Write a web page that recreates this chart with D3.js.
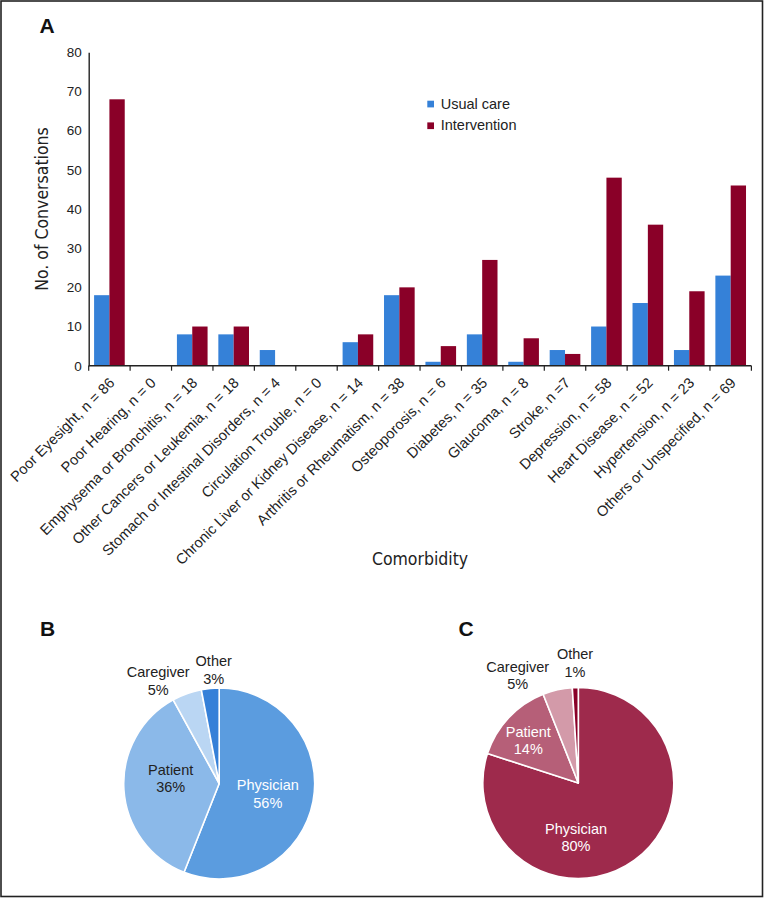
<!DOCTYPE html>
<html>
<head>
<meta charset="utf-8">
<script src="https://cdn.jsdelivr.net/npm/d3@7"></script>
<style>
  html, body { margin: 0; padding: 0; background: #fff; }
  svg { display: block; }
</style>
</head>
<body>
<svg id="chart" width="764" height="898"></svg>
<script>
// ---------- DATA ----------
const categories = [
  "Poor Eyesight, n = 86",
  "Poor Hearing, n = 0",
  "Emphysema or Bronchitis, n = 18",
  "Other Cancers or Leukemia, n = 18",
  "Stomach or Intestinal Disorders, n = 4",
  "Circulation Trouble, n = 0",
  "Chronic Liver or Kidney Disease, n = 14",
  "Arthritis or Rheumatism, n = 38",
  "Osteoporosis, n = 6",
  "Diabetes, n = 35",
  "Glaucoma, n = 8",
  "Stroke, n =7",
  "Depression, n = 58",
  "Heart Disease, n = 52",
  "Hypertension, n = 23",
  "Others or Unspecified, n = 69"
];
const seriesNames = ["Usual care", "Intervention"];
const usualCare    = [18, 0, 8, 8, 4, 0, 6, 18, 1, 8, 1, 4, 10, 16, 4, 23];
const intervention = [68, 0, 10, 10, 0, 0, 8, 20, 5, 27, 7, 3, 48, 36, 19, 46];
const yTicks = [0, 10, 20, 30, 40, 50, 60, 70, 80];

const pieLabels = ["Physician", "Patient", "Caregiver", "Other"];
const pieUsual = [56, 36, 5, 3];
const pieIntervention = [80, 14, 5, 1];

// ---------- STYLE ----------
const barColors = ["#3581d8", "#8a0028"];
const pieColorsB = ["#5b9cdf", "#8bb9e9", "#bad6f3", "#3580d8"];
const pieColorsC = ["#9e2a4c", "#b65f78", "#d39aa9", "#8a0028"];
const sans = "'Liberation Sans', Arial, Helvetica, sans-serif";
const cond = "'DejaVu Sans Condensed', 'DejaVu Sans', sans-serif";

const svg = d3.select("#chart");

// frame
svg.append("rect").attr("x", 1).attr("y", 1).attr("width", 761.5).attr("height", 895.5)
  .attr("fill", "none").attr("stroke", "#222").attr("stroke-width", 1.6);

// ---------- PANEL A ----------
const x0 = 88.7, x1 = 751.4, yBottom = 365.7, yTop = 52.3;
const x = d3.scaleBand().domain(categories).range([x0, x1]).paddingInner(0.26).paddingOuter(0.13);
const xs = d3.scaleBand().domain(seriesNames).range([0, x.bandwidth()]);
const y = d3.scaleLinear().domain([0, 80]).range([yBottom, yTop]);

const rows = categories.map((c, i) => ({ cat: c, vals: [usualCare[i], intervention[i]] }));

const groups = svg.append("g").selectAll("g").data(rows).join("g")
  .attr("transform", d => `translate(${x(d.cat)},0)`);
groups.selectAll("rect").data(d => d.vals.map((v, j) => ({ v, s: seriesNames[j], j })))
  .join("rect")
  .attr("x", d => xs(d.s))
  .attr("y", d => y(d.v))
  .attr("width", xs.bandwidth())
  .attr("height", d => yBottom - y(d.v))
  .attr("fill", d => barColors[d.j]);

// y axis
const yAxis = d3.axisLeft(y).tickValues(yTicks).tickSize(0).tickPadding(7);
const gy = svg.append("g").attr("transform", `translate(${x0},0)`).call(yAxis);
gy.select(".domain").attr("stroke", "#222").attr("stroke-width", 1.4);
gy.selectAll("text").attr("font-family", sans).attr("font-size", 13.5).attr("fill", "#222");

// x axis line + ticks at band boundaries
const gx = svg.append("g");
gx.append("line").attr("x1", x0).attr("x2", x1).attr("y1", yBottom).attr("y2", yBottom)
  .attr("stroke", "#222").attr("stroke-width", 1.4);
const boundaries = d3.range(categories.length + 1).map(i => x0 + i * x.step());
gx.selectAll("line.tick").data(boundaries).join("line").attr("class", "tick")
  .attr("x1", d => d).attr("x2", d => d).attr("y1", yBottom).attr("y2", yBottom + 5)
  .attr("stroke", "#222").attr("stroke-width", 1.2);
gx.selectAll("text").data(categories).join("text")
  .attr("transform", d => `translate(${x(d) + x.bandwidth() / 2 + 6},${yBottom + 18}) rotate(-45)`)
  .attr("text-anchor", "end")
  .attr("font-family", sans).attr("font-size", 14.6).attr("fill", "#222")
  .text(d => d);

// axis titles
svg.append("text")
  .attr("transform", `translate(48,${(yTop + yBottom) / 2}) rotate(-90)`)
  .attr("text-anchor", "middle")
  .attr("font-family", cond).attr("font-size", 17.5).attr("fill", "#222")
  .text("No. of Conversations");
svg.append("text")
  .attr("x", (x0 + x1) / 2).attr("y", 565)
  .attr("text-anchor", "middle")
  .attr("font-family", cond).attr("font-size", 17.5).attr("fill", "#222")
  .text("Comorbidity");

// legend
const leg = svg.append("g").selectAll("g").data(seriesNames).join("g")
  .attr("transform", (d, i) => `translate(427.3,${100.7 + i * 21.7})`);
leg.append("rect").attr("width", 6.7).attr("height", 6.7).attr("fill", (d, i) => barColors[i]);
leg.append("text").attr("x", 13.4).attr("y", 7.8)
  .attr("font-family", sans).attr("font-size", 14.5).attr("fill", "#222").text(d => d);

// panel letters
const letter = (t, lx, ly) => svg.append("text").attr("x", lx).attr("y", ly)
  .attr("font-family", sans).attr("font-weight", "bold").attr("font-size", 21).attr("fill", "#111").text(t);
letter("A", 39.5, 33);
letter("B", 40, 635.5);
letter("C", 458.5, 635.5);

// ---------- PIES ----------
const R = 95.5;
const pie = d3.pie().sort(null).value(d => d);
const arc = d3.arc().innerRadius(0).outerRadius(R);

function drawPie(cx, cy, values, colors, labelSpecs) {
  const g = svg.append("g").attr("transform", `translate(${cx},${cy})`);
  g.selectAll("path").data(pie(values)).join("path")
    .attr("d", arc).attr("fill", (d, i) => colors[i])
    .attr("stroke", "#fff").attr("stroke-width", 1.6).attr("stroke-linejoin", "round");
  labelSpecs.forEach((s, i) => {
    const t = g.append("text").attr("text-anchor", "middle")
      .attr("font-family", sans).attr("font-size", 14.5).attr("fill", s.fill);
    t.append("tspan").attr("x", s.dx).attr("y", s.dy).text(pieLabels[i]);
    t.append("tspan").attr("x", s.dx).attr("y", s.dy + 17.5).text(values[i] + "%");
  });
}

drawPie(219.2, 783.5, pieUsual, pieColorsB, [
  { dx: 48.6, dy: 6.5, fill: "#fff" },
  { dx: -48.5, dy: -9, fill: "#222" },
  { dx: -61, dy: -106.5, fill: "#222" },
  { dx: -5.5, dy: -117.5, fill: "#222" }
]);
drawPie(578.3, 783, pieIntervention, pieColorsC, [
  { dx: -2.3, dy: 50.5, fill: "#fff" },
  { dx: -50, dy: -46.5, fill: "#fff" },
  { dx: -60.6, dy: -111.5, fill: "#222" },
  { dx: -3.3, dy: -124, fill: "#222" }
]);
</script>
</body>
</html>
